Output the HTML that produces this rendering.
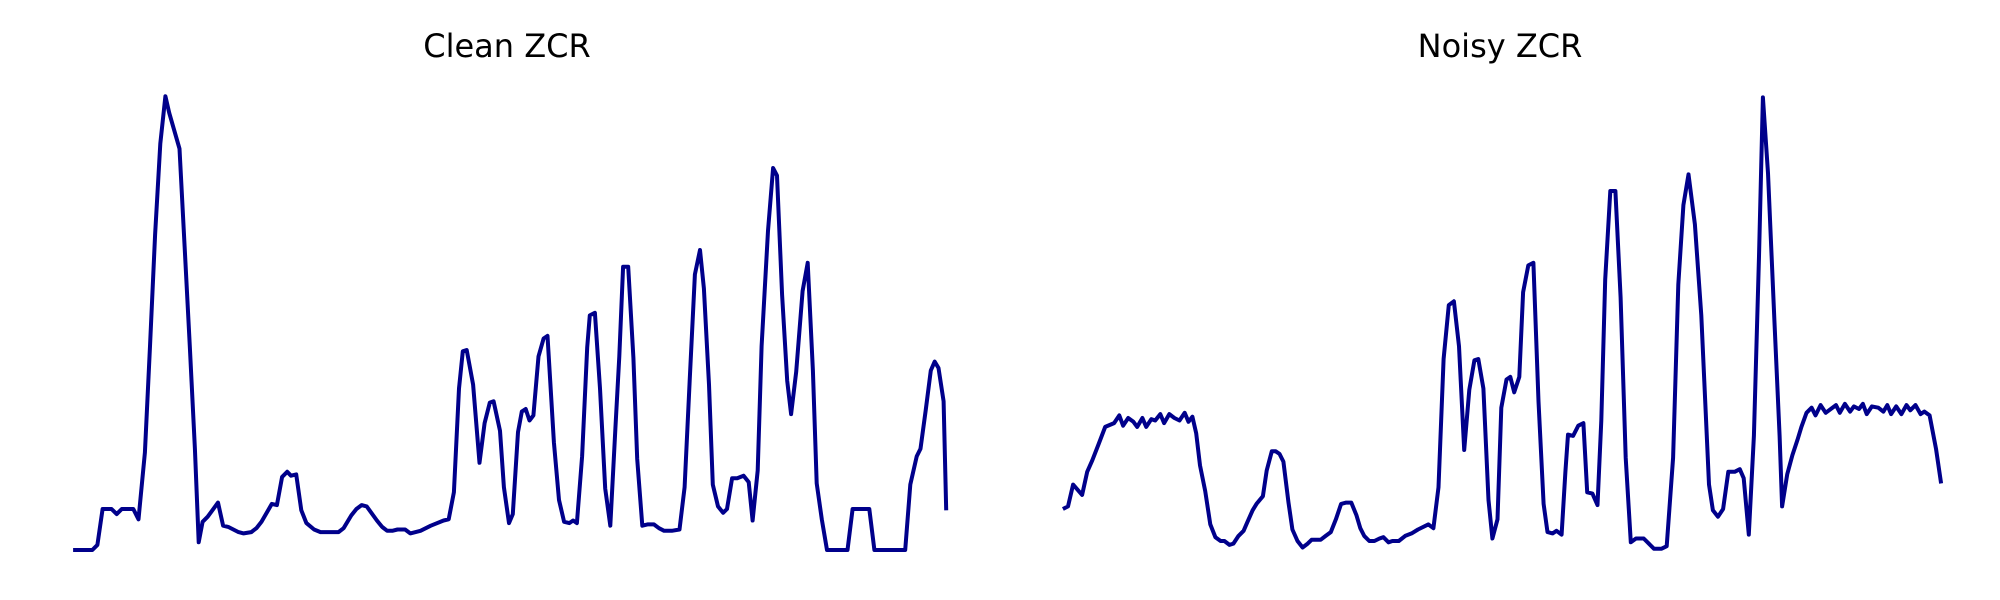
<!DOCTYPE html>
<html><head><meta charset="utf-8"><style>
html,body{margin:0;padding:0;background:#fff;}
svg{display:block;}
text{font-family:"DejaVu Sans","Liberation Sans",sans-serif;}
</style></head>
<body>
<svg id="chart" width="2000" height="600" viewBox="0 0 2000 600">
<text x="507" y="57" font-size="32" text-anchor="middle" fill="#000">Clean ZCR</text>
<text x="1500" y="57" font-size="32" text-anchor="middle" fill="#000">Noisy ZCR</text>
<g id="left"></g>
<g id="right"></g>
</svg>
<script>
const cleanTime = [0,15,19,23,30,34,38,47,51,56,60,64,68,72,75,83,87,91,95,98,101,105,113,117,121,129,133,139,143,147,155,159,163,167,170,174,178,182,188,193,202,207,211,217,221,225,229,237,241,245,249,253,259,263,271,279,289,293,297,301,304,307,312,317,321,325,328,333,336,340,343,347,350,353,356,359,363,367,370,375,379,383,387,390,393,397,401,403,407,411,415,419,423,426,429,433,437,440,444,448,453,457,461,467,473,477,481,485,489,492,496,499,503,507,510,514,518,523,527,530,534,537,542,546,549,553,557,560,564,569,573,577,580,584,588,604,608,621,625,649,653,658,661,665,669,672,675,679,681];
const cleanZcr = [0,0,4,32,32,28,32,32,24,76,159,246,317,354,341,313,237,159,79,6,22,26,37,19,18,14,13,14,17,22,36,35,57,61,58,59,31,21,16,14,14,14,17,27,32,35,34,23,18,15,15,16,16,13,15,19,23,24,45,126,155,156,129,68,99,115,116,93,49,21,28,92,108,110,101,105,151,165,167,84,39,22,21,23,21,73,158,183,185,126,48,19,95,151,221,221,150,71,19,20,20,17,15,15,16,49,134,215,234,204,129,51,34,29,32,56,56,58,53,23,62,159,249,298,292,199,132,106,139,202,224,140,52,24,0,0,32,32,0,0,51,73,79,109,140,147,142,116,31];
const noisyTime = [0,4,8,15,19,23,28,33,40,44,47,51,55,58,62,65,69,72,76,79,83,87,91,95,98,101,104,107,111,115,119,123,126,130,133,137,141,144,148,151,156,159,163,166,169,172,176,179,183,187,191,194,197,201,205,209,213,217,221,225,229,232,235,239,243,247,250,254,257,262,267,272,277,285,289,293,297,301,305,309,313,317,321,324,328,332,335,339,342,346,349,352,356,359,363,367,371,375,378,382,385,389,392,394,398,402,406,409,413,417,420,423,427,431,435,439,443,447,453,457,461,467,471,476,480,484,488,493,498,504,507,511,515,519,524,528,531,535,539,543,546,550,555,559,561,565,569,573,576,580,584,587,591,595,599,603,606,610,614,617,621,624,627,631,636,640,643,646,650,654,658,661,665,669,672,676,681,685];
const noisyZcr = [32,34,51,43,61,70,83,96,99,105,97,103,100,96,103,96,102,101,106,99,106,103,101,107,100,104,91,66,46,20,10,7,7,4,5,11,15,22,31,36,42,62,77,77,75,69,37,16,7,2,5,8,8,8,11,14,24,36,37,37,27,17,11,7,7,9,10,6,7,7,11,13,16,20,17,49,149,191,194,159,78,125,148,149,126,39,9,24,111,133,135,123,135,201,222,224,116,36,14,13,15,12,61,90,89,97,99,45,44,35,101,211,280,280,197,72,6,9,9,5,1,1,3,72,207,269,293,254,183,51,31,26,32,61,61,63,56,12,89,229,353,294,179,89,34,59,74,86,96,107,111,105,113,107,110,113,107,114,108,112,110,114,106,112,111,108,113,106,112,106,113,109,113,106,108,105,79,52];

const S = 1.2821;
function yScale(v){ return (429 - v) * S; }
function xLeft(t){ return (57 + t) * S; }
function xRight(t){ return (829 + t) * S; }

function drawLine(gid, times, vals, xs, name){
  const g = document.getElementById(gid);
  let d = '';
  for (let i = 0; i < times.length; i++) {
    d += (i ? 'L' : 'M') + xs(times[i]).toFixed(1) + ',' + yScale(vals[i]).toFixed(1);
  }
  const p = document.createElementNS('http://www.w3.org/2000/svg', 'path');
  p.setAttribute('d', d);
  p.setAttribute('fill', 'none');
  p.setAttribute('stroke', '#00008b');
  p.setAttribute('stroke-width', '4');
  p.setAttribute('stroke-linejoin', 'round');
  
  
  g.appendChild(p);
}
drawLine('left', cleanTime, cleanZcr, xLeft, 'clean-zcr-line');
drawLine('right', noisyTime, noisyZcr, xRight, 'noisy-zcr-line');
</script>
</body></html>
